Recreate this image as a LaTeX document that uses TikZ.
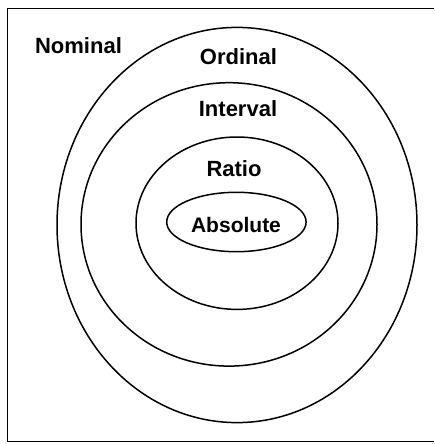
\documentclass[tikz,border=0pt]{standalone}
\usepackage{fontspec}
\setmainfont{Liberation Sans}
\begin{document}
\begin{tikzpicture}[x=1pt,y=-1pt,
  ring/.style={draw=black,line width=1.5pt},
  lab/.style={anchor=base,inner sep=0pt,font=\fontsize{22}{26}\selectfont\bfseries}]
\useasboundingbox (0,0) rectangle (434,444);
% frame (right side cut off)
\draw[line width=1.4pt] (434,8.5) -- (7.5,8.5) -- (7.5,441.5) -- (434,441.5);
% nested ellipses
\draw[ring] (237,225) ellipse [x radius=180, y radius=197.6];
\draw[ring] (229,224.4) ellipse [x radius=148, y radius=141.7];
\draw[ring] (237,223.2) ellipse [x radius=101, y radius=86.2];
\draw[ring] (236.4,222) ellipse [x radius=69.7, y radius=29.7];
% labels
\node[lab] (nominal) at (78.5,53) {Nominal};
\node[lab] (ordinal) at (238.5,64) {Ordinal};
\node[lab] (interval) at (238,116) {Interval};
\node[lab] (ratio) at (234,176) {Ratio};
\node[lab,font=\fontsize{21}{25}\selectfont\bfseries] (absolute) at (236,232.7) {Absolute};
\end{tikzpicture}
\end{document}
